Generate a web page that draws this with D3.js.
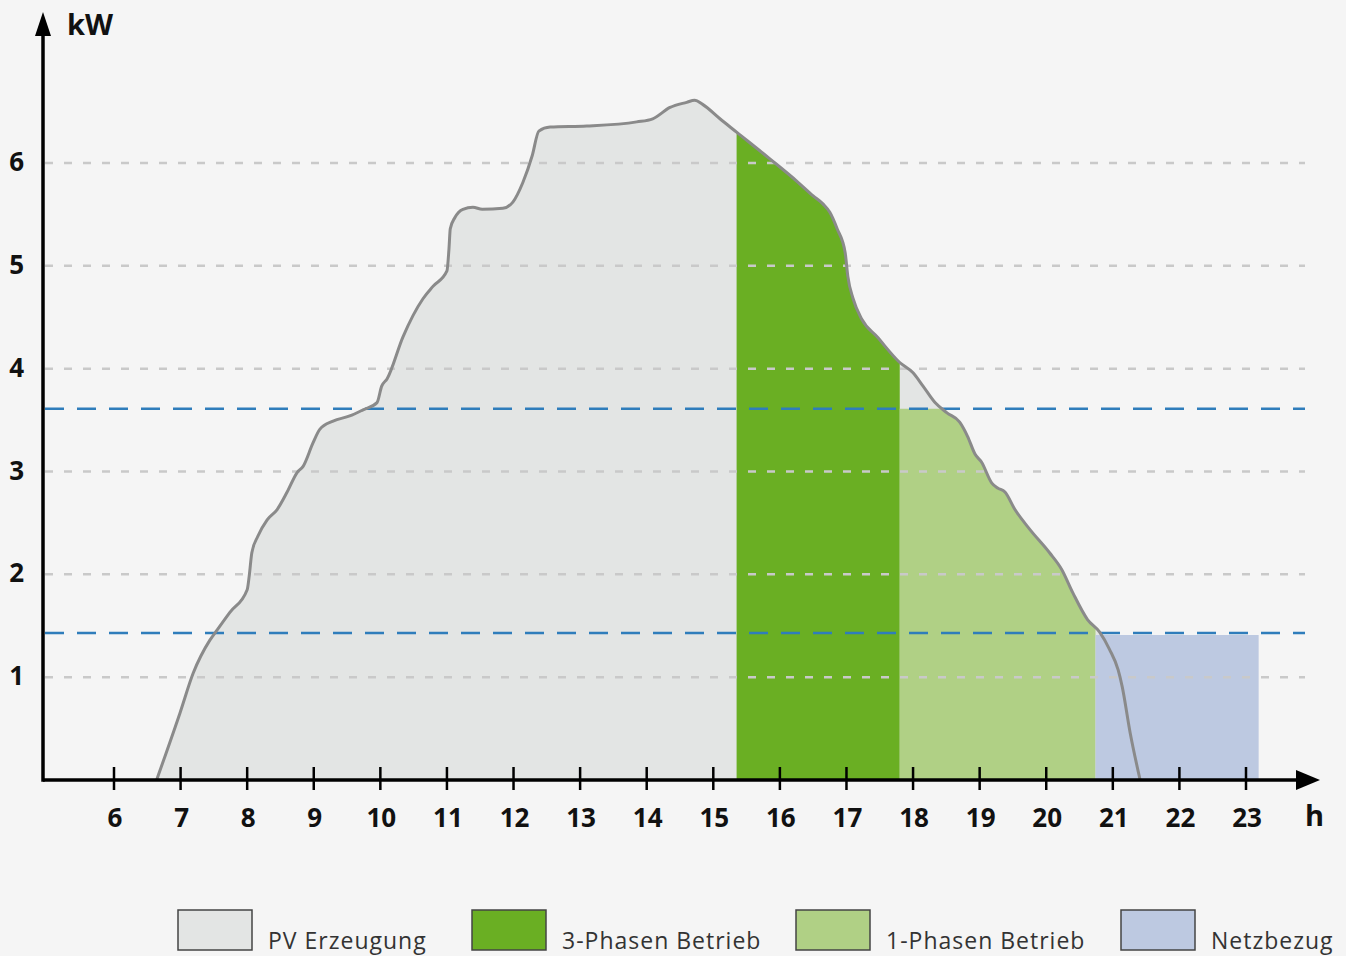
<!DOCTYPE html>
<html>
<head>
<meta charset="utf-8">
<script src="https://cdn.jsdelivr.net/npm/d3@7"></script>
<style>
  html, body { margin: 0; padding: 0; background: #f5f5f5; }
  svg { display: block; font-family: "Open Sans", "DejaVu Sans", sans-serif; }
</style>
</head>
<body>
<div id="chart"></div>
<script>
// PV production curve (hour of day, kW)
const pvHours = [6.64, 6.99, 7.19, 7.44, 7.55, 7.74, 8.00, 8.03, 8.07, 8.16, 8.30, 8.45, 8.60, 8.75, 8.84, 8.99,
  9.09, 9.29, 9.54, 9.74, 9.95, 10.02, 10.10, 10.34, 10.64, 10.79, 11.00, 11.03, 11.05, 11.12, 11.24, 11.39,
  11.53, 11.84, 11.99, 12.14, 12.28, 12.38, 12.55, 13.10, 13.85, 14.09, 14.35, 14.60, 14.72, 14.84, 15.10,
  15.35, 15.85, 16.26, 16.50, 16.65, 16.75, 16.86, 16.98, 17.02, 17.10, 17.23, 17.46, 17.80, 18.00, 18.15,
  18.33, 18.51, 18.70, 18.82, 18.93, 19.03, 19.18, 19.27, 19.38, 19.53, 19.75, 20.05, 20.23, 20.40, 20.62,
  20.80, 20.95, 21.08, 21.14, 21.26, 21.41];
const pvKw = [0, 0.65, 1.04, 1.36, 1.46, 1.63, 1.85, 1.98, 2.21, 2.37, 2.53, 2.63, 2.80, 2.99, 3.05, 3.28,
  3.41, 3.49, 3.54, 3.60, 3.67, 3.83, 3.90, 4.31, 4.68, 4.80, 4.95, 5.16, 5.36, 5.47, 5.55, 5.57,
  5.55, 5.56, 5.62, 5.81, 6.07, 6.31, 6.35, 6.36, 6.40, 6.43, 6.54, 6.59, 6.61, 6.57, 6.43,
  6.30, 6.04, 5.82, 5.68, 5.60, 5.52, 5.36, 5.13, 4.90, 4.68, 4.48, 4.31, 4.06, 3.96, 3.83,
  3.67, 3.57, 3.48, 3.34, 3.17, 3.09, 2.89, 2.84, 2.80, 2.63, 2.44, 2.21, 2.05, 1.82, 1.56,
  1.44, 1.27, 1.07, 0.91, 0.46, 0];

// operating windows (hours) and power limits (kW)
const threePhase = [15.35, 17.80];
const onePhase = [17.80, 20.74];
const gridDraw = [20.74, 23.19];
const limitLines = [3.61, 1.43];
const onePhaseCap = 3.61;
const gridDrawKw = 1.41;

const xTicks = [6, 7, 8, 9, 10, 11, 12, 13, 14, 15, 16, 17, 18, 19, 20, 21, 22, 23];
const yTicks = [1, 2, 3, 4, 5, 6];

const legendNames = ["PV Erzeugung", "3-Phasen Betrieb", "1-Phasen Betrieb", "Netzbezug"];
const legendColors = ["#e3e5e4", "#6aaf23", "#b0d085", "#bdc9e1"];

const width = 1346;
const height = 956;

const x = d3.scaleLinear().domain([6, 23]).range([114, 1246]);
const y = d3.scaleLinear().domain([0, 6]).range([780, 163]);

const x0 = 43;       // y axis position
const xEnd = 1320;   // x arrow tip
const yTop = 12;     // y arrow tip
const gridEnd = 1305;

const pv = pvHours.map((h, i) => ({ h: h, kw: pvKw[i] }));

const svg = d3.select("#chart")
  .append("svg")
  .attr("width", width)
  .attr("height", height);

svg.append("rect").attr("width", width).attr("height", height).attr("fill", "#f5f5f5");

const defs = svg.append("defs");
defs.append("clipPath").attr("id", "clip3")
  .append("rect")
  .attr("x", x(threePhase[0])).attr("y", 0)
  .attr("width", x(threePhase[1]) - x(threePhase[0])).attr("height", y(0));
defs.append("clipPath").attr("id", "clip1")
  .append("rect")
  .attr("x", x(onePhase[0])).attr("y", y(onePhaseCap))
  .attr("width", x(onePhase[1]) - x(onePhase[0])).attr("height", y(0) - y(onePhaseCap));

const area = d3.area()
  .x(d => x(d.h))
  .y0(y(0))
  .y1(d => y(d.kw))
  .curve(d3.curveMonotoneX);

const line = d3.line()
  .x(d => x(d.h))
  .y(d => y(d.kw))
  .curve(d3.curveMonotoneX);

// PV area
svg.append("path").datum(pv).attr("d", area).attr("fill", legendColors[0]);
// 3-phase
svg.append("path").datum(pv).attr("d", area).attr("fill", legendColors[1]).attr("clip-path", "url(#clip3)");
// 1-phase (capped)
svg.append("path").datum(pv).attr("d", area).attr("fill", legendColors[2]).attr("clip-path", "url(#clip1)");
// grid draw
svg.append("rect")
  .attr("x", x(gridDraw[0]))
  .attr("y", y(gridDrawKw))
  .attr("width", x(gridDraw[1]) - x(gridDraw[0]))
  .attr("height", y(0) - y(gridDrawKw))
  .attr("fill", legendColors[3]);

// grid lines
svg.append("g")
  .selectAll("line")
  .data(yTicks)
  .enter().append("line")
  .attr("x1", x0 + 2).attr("x2", gridEnd)
  .attr("y1", d => y(d)).attr("y2", d => y(d))
  .attr("stroke", "#c9c9c9")
  .attr("stroke-width", 2.5)
  .attr("stroke-dasharray", "8,11");

// limit lines
svg.append("g")
  .selectAll("line")
  .data(limitLines)
  .enter().append("line")
  .attr("x1", x0 + 2).attr("x2", gridEnd)
  .attr("y1", d => y(d)).attr("y2", d => y(d))
  .attr("stroke", "#2f7dbb")
  .attr("stroke-width", 2.5)
  .attr("stroke-dasharray", "19,13");

// PV curve
svg.append("path").datum(pv)
  .attr("d", line)
  .attr("fill", "none")
  .attr("stroke", "#8a8a8a")
  .attr("stroke-width", 3);

// axes
svg.append("line")
  .attr("x1", x0).attr("x2", xEnd - 18)
  .attr("y1", y(0)).attr("y2", y(0))
  .attr("stroke", "#000").attr("stroke-width", 3.5);
svg.append("path")
  .attr("d", `M${xEnd},${y(0)} L${xEnd - 24},${y(0) - 10} L${xEnd - 24},${y(0) + 10} Z`)
  .attr("fill", "#000");
svg.append("line")
  .attr("x1", x0).attr("x2", x0)
  .attr("y1", y(0) + 1.75).attr("y2", yTop + 18)
  .attr("stroke", "#000").attr("stroke-width", 3.5);
svg.append("path")
  .attr("d", `M${x0},${yTop} L${x0 - 8},${yTop + 24} L${x0 + 8},${yTop + 24} Z`)
  .attr("fill", "#000");

// x ticks
svg.append("g")
  .selectAll("line")
  .data(xTicks)
  .enter().append("line")
  .attr("x1", d => x(d)).attr("x2", d => x(d))
  .attr("y1", y(0) - 13).attr("y2", y(0) + 10)
  .attr("stroke", "#000").attr("stroke-width", 2.5);

svg.append("g")
  .selectAll("text")
  .data(xTicks)
  .enter().append("text")
  .attr("x", d => x(d) + 1)
  .attr("y", 827)
  .attr("text-anchor", "middle")
  .attr("font-size", 26)
  .attr("font-weight", "bold")
  .attr("fill", "#111")
  .text(d => d);

svg.append("g")
  .selectAll("text")
  .data(yTicks)
  .enter().append("text")
  .attr("x", 24)
  .attr("y", d => y(d) + 8)
  .attr("text-anchor", "end")
  .attr("font-size", 26)
  .attr("font-weight", "bold")
  .attr("fill", "#111")
  .text(d => d);

svg.append("text")
  .attr("x", 67).attr("y", 35)
  .attr("font-size", 29).attr("font-weight", "bold").attr("fill", "#111")
  .text("kW");
svg.append("text")
  .attr("x", 1305).attr("y", 826)
  .attr("font-size", 29).attr("font-weight", "bold").attr("fill", "#111")
  .text("h");

// legend
const legendX = [178, 472, 796, 1121];
const legend = svg.append("g")
  .selectAll("g")
  .data(legendNames)
  .enter().append("g")
  .attr("transform", (d, i) => `translate(${legendX[i]},910)`);

legend.append("rect")
  .attr("width", 74).attr("height", 40)
  .attr("fill", (d, i) => legendColors[i])
  .attr("stroke", "#444").attr("stroke-width", 1.5);

legend.append("text")
  .attr("x", 90).attr("y", 39)
  .attr("font-size", 23)
  .attr("letter-spacing", 1)
  .attr("fill", "#333")
  .text(d => d);
</script>
</body>
</html>
